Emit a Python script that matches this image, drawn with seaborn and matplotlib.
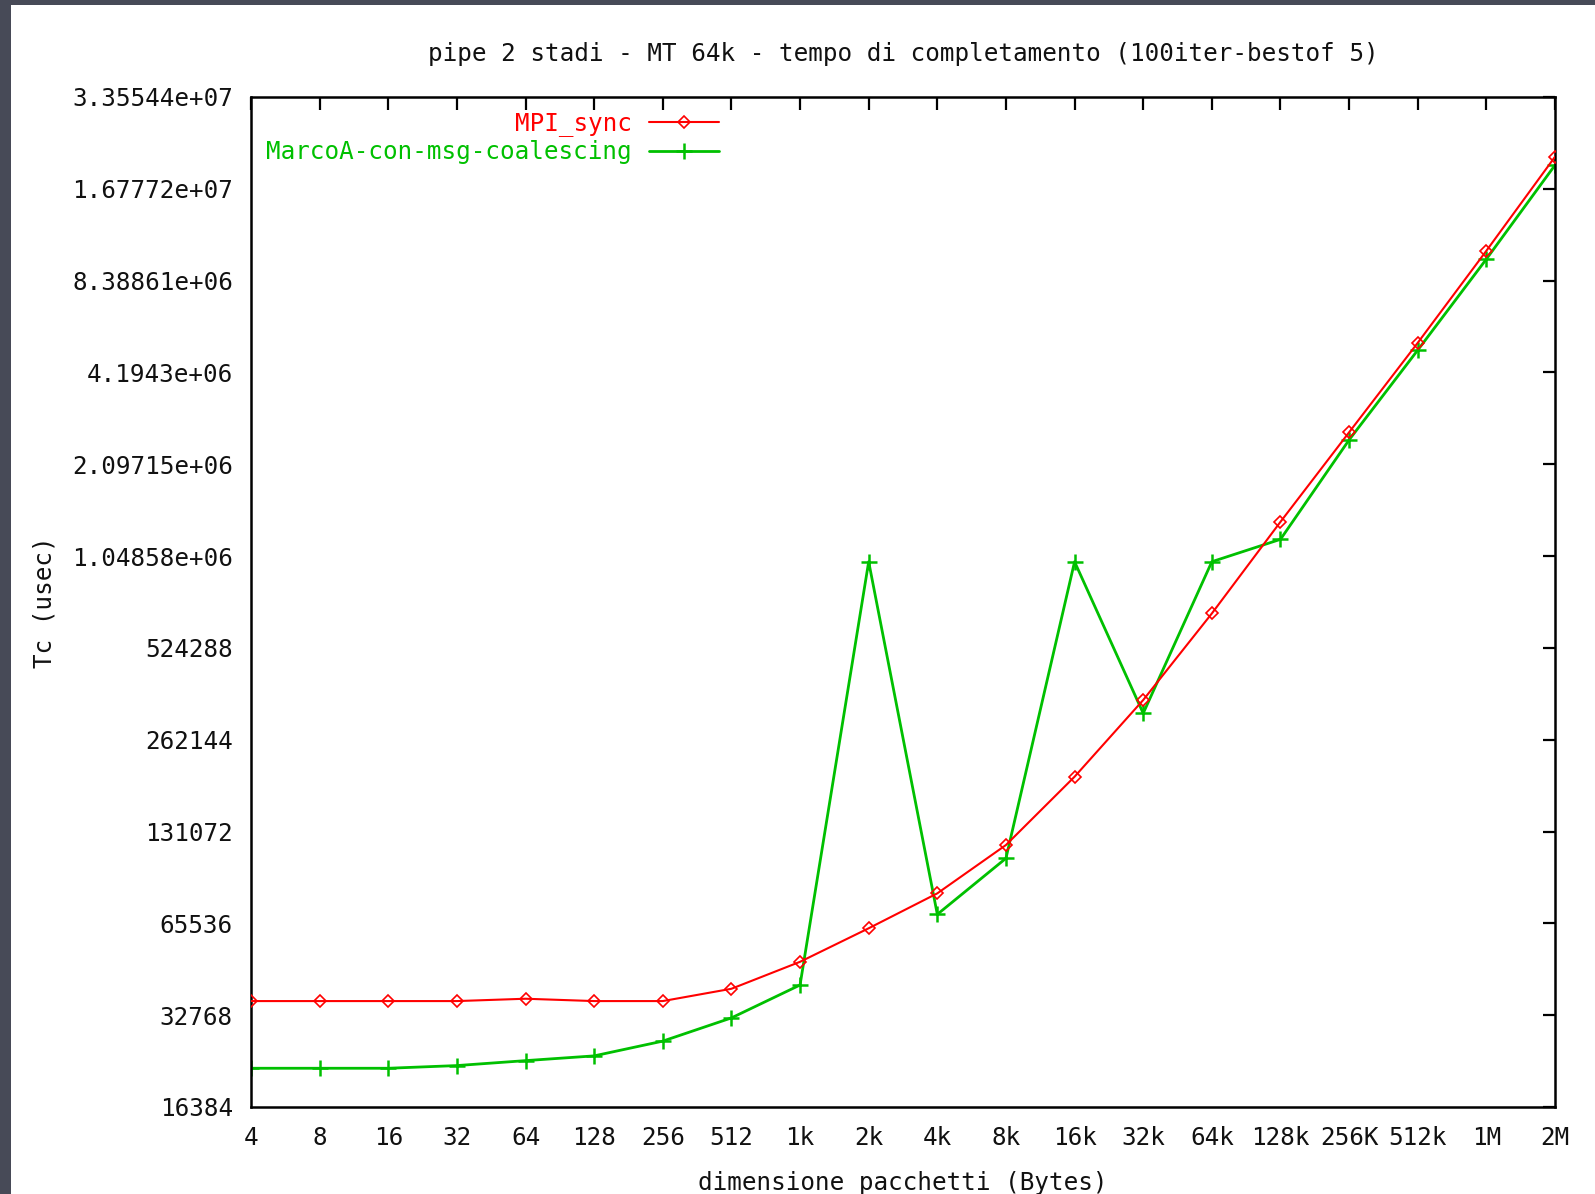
import matplotlib
matplotlib.use("Agg")
import matplotlib.pyplot as plt
import seaborn as sns
import pandas as pd
from matplotlib.patches import Rectangle
from matplotlib.ticker import FixedLocator, FixedFormatter, NullLocator

# ---------------- data ----------------
sizes = [4, 8, 16, 32, 64, 128, 256, 512, 1024, 2048, 4096, 8192, 16384,
         32768, 65536, 131072, 262144, 524288, 1048576, 2097152]
size_labels = ["4", "8", "16", "32", "64", "128", "256", "512", "1k", "2k",
               "4k", "8k", "16k", "32k", "64k", "128k", "256K", "512k", "1M", "2M"]
mpi_sync = [36450, 36450, 36450, 36450, 37100, 36450, 36450, 40000, 49030,
            63150, 82200, 118400, 198300, 353800, 680000, 1358000, 2670000,
            5246000, 10510000, 21370000]
marcoa = [21950, 21950, 21950, 22400, 23250, 24100, 26940, 32100, 41150,
          1005000, 70150, 107100, 1005000, 320000, 1005000, 1190000, 2521000,
          4964000, 9870000, 20060000]
series_names = ["MPI_sync", "MarcoA-con-msg-coalescing"]
y_ticks = [16384, 32768, 65536, 131072, 262144, 524288, 1048576, 2097152,
           4194304, 8388608, 16777216, 33554432]
y_tick_labels = ["16384", "32768", "65536", "131072", "262144", "524288",
                 "1.04858e+06", "2.09715e+06", "4.1943e+06", "8.38861e+06",
                 "1.67772e+07", "3.35544e+07"]
title = "pipe 2 stadi - MT 64k - tempo di completamento (100iter-bestof 5)"
xlabel = "dimensione pacchetti (Bytes)"
ylabel = "Tc (usec)"

df = pd.DataFrame({
    "size": sizes + sizes,
    "tc": mpi_sync + marcoa,
    "series": [series_names[0]] * len(sizes) + [series_names[1]] * len(sizes),
})

# ---------------- style ----------------
sns.set_style("white")
plt.rcParams["font.family"] = ["DejaVu Sans Mono", "DejaVu Sans"]
FS = 17.5
RED = "#ff0000"
GREEN = "#00c000"

W, H = 1595, 1194
fig = plt.figure(figsize=(W / 100, H / 100), dpi=100)
fig.patch.set_facecolor("#474a57")
fig.add_artist(Rectangle((11 / W, 0), 1 - 11 / W, 1 - 5 / H,
                         transform=fig.transFigure, facecolor="white",
                         edgecolor="none", zorder=0))

left, right, top, bottom = 251, 1555, 97, 1107
ax = fig.add_axes([left / W, 1 - bottom / H, (right - left) / W, (bottom - top) / H])
ax.set_facecolor("white")

sns.lineplot(data=df[df.series == series_names[0]], x="size", y="tc", ax=ax,
             color=RED, lw=1.5, marker="D", markersize=6.5,
             markerfacecolor="none", markeredgecolor=RED, markeredgewidth=1.2,
             label=series_names[0], zorder=3)
sns.lineplot(data=df[df.series == series_names[1]], x="size", y="tc", ax=ax,
             color=GREEN, lw=2.0, marker="+", markersize=12,
             markeredgewidth=1.8, markeredgecolor=GREEN,
             label=series_names[1], zorder=2)

ax.set_xscale("log", base=2)
ax.set_yscale("log", base=2)
ax.set_xlim(sizes[0], sizes[-1])
ax.set_ylim(y_ticks[0], y_ticks[-1])

ax.xaxis.set_major_locator(FixedLocator(sizes))
ax.xaxis.set_major_formatter(FixedFormatter(size_labels))
ax.xaxis.set_minor_locator(NullLocator())
ax.yaxis.set_major_locator(FixedLocator(y_ticks))
ax.yaxis.set_major_formatter(FixedFormatter(y_tick_labels))
ax.yaxis.set_minor_locator(NullLocator())

ax.tick_params(axis="both", which="major", direction="in", length=9, width=1.6,
               color="black", labelsize=FS, labelcolor="#111111",
               top=True, right=True)
ax.tick_params(axis="x", pad=14)
ax.tick_params(axis="y", pad=13)
for sp in ax.spines.values():
    sp.set_visible(True)
    sp.set_color("black")
    sp.set_linewidth(1.8)

ax.set_title(title, fontsize=FS, pad=26, color="#111111")
ax.set_xlabel(xlabel, fontsize=FS, labelpad=15, color="#111111")
ax.set_ylabel(ylabel, fontsize=FS, labelpad=11, color="#111111")

leg = ax.legend(loc="upper left", bbox_to_anchor=(0.0115, 0.986),
                frameon=False, markerfirst=False, fontsize=FS,
                handlelength=2.9, handletextpad=0.7, labelspacing=0.16,
                borderpad=0, borderaxespad=0)
for txt, c in zip(leg.get_texts(), [RED, GREEN]):
    txt.set_color(c)

fig.savefig("out.png", dpi=100, facecolor=fig.get_facecolor())
